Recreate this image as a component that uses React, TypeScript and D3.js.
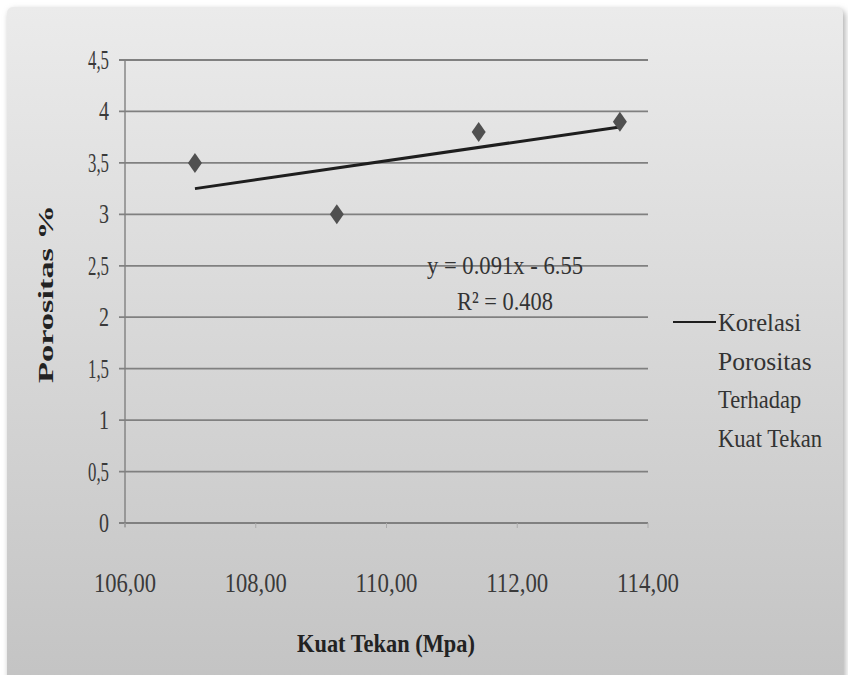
import React, { useRef, useEffect } from 'react';
import * as d3 from 'd3';

const kuatTekan = [107.07, 109.24, 111.41, 113.57];
const porositas = [3.5, 3.0, 3.8, 3.9];
const xTicks = [106, 108, 110, 112, 114];
const yTicks = [0, 0.5, 1, 1.5, 2, 2.5, 3, 3.5, 4, 4.5];
const legendLines = ['Korelasi', 'Porositas', 'Terhadap', 'Kuat Tekan'];
const equationText = 'y = 0.091x - 6.55';
const r2Text = 'R² = 0.408';

const W = 848;
const H = 675;
const FONT = 'Liberation Serif, DejaVu Serif, serif';

const App: React.FC = () => {
  const ref = useRef<SVGSVGElement | null>(null);

  useEffect(() => {
    if (!ref.current) return;
    const svg = d3.select(ref.current);
    svg.selectAll('*').remove();

    const x = d3.scaleLinear().domain([106, 114]).range([125, 648]);
    const y = d3.scaleLinear().domain([0, 4.5]).range([523, 60]);

    // panel background
    const defs = svg.append('defs');
    const grad = defs.append('linearGradient')
      .attr('id', 'bg').attr('x1', 0).attr('y1', 0).attr('x2', 0).attr('y2', 1);
    grad.append('stop').attr('offset', '0%').attr('stop-color', '#ebebeb');
    grad.append('stop').attr('offset', '100%').attr('stop-color', '#c2c2c2');
    const blur = defs.append('filter').attr('id', 'shadow')
      .attr('x', '-5%').attr('y', '-5%').attr('width', '110%').attr('height', '110%');
    blur.append('feGaussianBlur').attr('stdDeviation', 3);

    svg.append('rect').attr('width', W).attr('height', H).attr('fill', '#fff');
    svg.append('rect')
      .attr('x', 9).attr('y', 10).attr('width', 836).attr('height', 700).attr('rx', 6)
      .attr('fill', '#aaa').attr('filter', 'url(#shadow)');
    svg.append('rect')
      .attr('x', 7).attr('y', 7).attr('width', 836).attr('height', 700).attr('rx', 6)
      .attr('fill', 'url(#bg)');

    // gridlines
    svg.append('g').selectAll('line')
      .data(yTicks.filter(d => d > 0))
      .enter().append('line')
      .attr('x1', x(106) - 6).attr('x2', x(114))
      .attr('y1', d => y(d)).attr('y2', d => y(d))
      .attr('stroke', '#808080').attr('stroke-width', 1.8);

    // axes
    svg.append('line')
      .attr('x1', x(106)).attr('x2', x(106)).attr('y1', y(4.5)).attr('y2', y(0) + 4)
      .attr('stroke', '#808080').attr('stroke-width', 1.4);
    svg.append('line')
      .attr('x1', x(106) - 6).attr('x2', x(114)).attr('y1', y(0)).attr('y2', y(0))
      .attr('stroke', '#808080').attr('stroke-width', 1.8);
    svg.append('g').selectAll('line')
      .data(xTicks)
      .enter().append('line')
      .attr('x1', d => x(d)).attr('x2', d => x(d))
      .attr('y1', y(0)).attr('y2', y(0) + 5)
      .attr('stroke', '#aaa').attr('stroke-width', 1);

    // tick labels
    svg.append('g').selectAll('text')
      .data(yTicks)
      .enter().append('text')
      .attr('x', 109).attr('y', d => y(d) + 9)
      .attr('text-anchor', 'end')
      .attr('font-family', FONT).attr('font-size', 28).attr('fill', '#3a3a3a')
      .attr('textLength', d => (String(d).length > 1 ? 21 : 10)).attr('lengthAdjust', 'spacingAndGlyphs')
      .text(d => String(d).replace('.', ','));

    svg.append('g').selectAll('text')
      .data(xTicks)
      .enter().append('text')
      .attr('x', d => x(d)).attr('y', 592)
      .attr('text-anchor', 'middle')
      .attr('font-family', FONT).attr('font-size', 27).attr('fill', '#3a3a3a')
      .attr('textLength', 62).attr('lengthAdjust', 'spacingAndGlyphs')
      .text(d => d.toFixed(2).replace('.', ','));

    // axis titles
    svg.append('text')
      .attr('transform', `translate(53, 294) rotate(-90)`)
      .attr('text-anchor', 'middle')
      .attr('font-family', FONT).attr('font-size', 22).attr('font-weight', 'bold').attr('fill', '#222')
      .attr('textLength', 178).attr('lengthAdjust', 'spacingAndGlyphs')
      .text('Porositas %');
    svg.append('text')
      .attr('x', 386).attr('y', 652)
      .attr('text-anchor', 'middle')
      .attr('font-family', FONT).attr('font-size', 25).attr('font-weight', 'bold').attr('fill', '#222')
      .attr('textLength', 178).attr('lengthAdjust', 'spacingAndGlyphs')
      .text('Kuat Tekan (Mpa)');

    // trend line (least squares)
    const mx = d3.mean(kuatTekan) as number;
    const my = d3.mean(porositas) as number;
    const sxy = d3.sum(kuatTekan, (v, i) => (v - mx) * (porositas[i] - my));
    const sxx = d3.sum(kuatTekan, v => (v - mx) ** 2);
    const slope = sxy / sxx;
    const intercept = my - slope * mx;
    const x0 = d3.min(kuatTekan) as number;
    const x1 = d3.max(kuatTekan) as number;
    svg.append('path')
      .attr('d', d3.line()([[x(x0), y(slope * x0 + intercept)], [x(x1), y(slope * x1 + intercept)]]))
      .attr('stroke', '#1e1e1e').attr('stroke-width', 3).attr('fill', 'none');

    // points
    svg.append('g').selectAll('path')
      .data(kuatTekan)
      .enter().append('path')
      .attr('transform', (d, i) => `translate(${x(d)},${y(porositas[i])})`)
      .attr('d', 'M0,-10 L7,0 L0,10 L-7,0 Z')
      .attr('fill', '#505050');

    // equation
    svg.append('text')
      .attr('x', 505).attr('y', 274).attr('text-anchor', 'middle')
      .attr('font-family', FONT).attr('font-size', 26).attr('fill', '#333')
      .attr('textLength', 156).attr('lengthAdjust', 'spacingAndGlyphs')
      .text(equationText);
    svg.append('text')
      .attr('x', 505).attr('y', 310).attr('text-anchor', 'middle')
      .attr('font-family', FONT).attr('font-size', 26).attr('fill', '#333')
      .attr('textLength', 96).attr('lengthAdjust', 'spacingAndGlyphs')
      .text(r2Text);

    // legend
    svg.append('line')
      .attr('x1', 673).attr('x2', 716).attr('y1', 322).attr('y2', 322)
      .attr('stroke', '#1e1e1e').attr('stroke-width', 2);
    svg.append('g').selectAll('text')
      .data(legendLines)
      .enter().append('text')
      .attr('x', 718).attr('y', (d, i) => 331 + i * 38.5)
      .attr('font-family', FONT).attr('font-size', 26).attr('fill', '#333')
      .attr('textLength', d => d.length * 10.4).attr('lengthAdjust', 'spacingAndGlyphs')
      .text(d => d);
  }, []);

  return (
    <svg
      ref={ref}
      width={W}
      height={H}
      style={{ display: 'block', position: 'absolute', left: 0, top: 0 }}
    />
  );
};

export default App;
